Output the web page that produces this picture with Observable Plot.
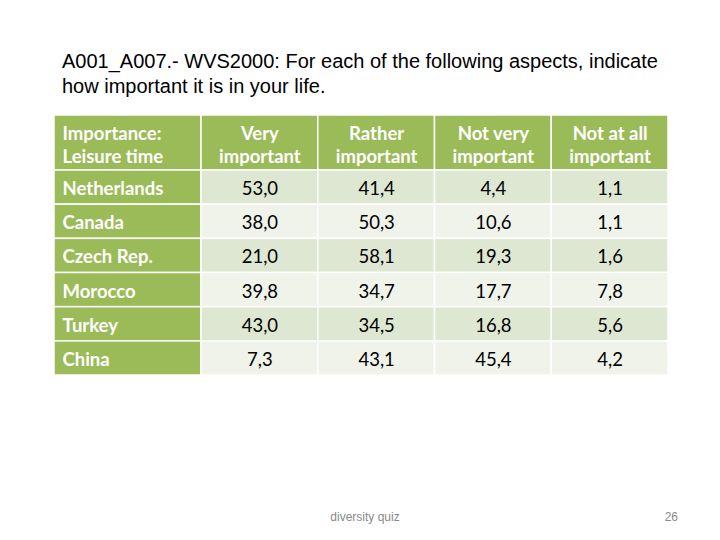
<!DOCTYPE html>
<html>
<head>
<meta charset="utf-8">
<script src="https://cdn.jsdelivr.net/npm/d3@7"></script>
<script src="https://cdn.jsdelivr.net/npm/@observablehq/plot@0.6"></script>
<style>
  html, body { margin: 0; padding: 0; background: #fff; }
  #page { position: relative; width: 720px; height: 540px; overflow: hidden; }
  #title { box-sizing: border-box; height: 100px; padding: 49px 0 0 62px;
           font-family: "Liberation Sans", Arial, sans-serif; font-size: 20px; line-height: 25px; color: #000; }
  #chart svg { display: block; }
  .foot { position: absolute; top: 510px; font-family: "Liberation Sans", Arial, sans-serif; font-size: 12px; color: #898989; }
</style>
</head>
<body>
<div id="page">
  <div id="title">A001_A007.- WVS2000: For each of the following aspects, indicate<br>how important it is in your life.</div>
  <div id="chart"></div>
  <div class="foot" style="left:0;width:730px;text-align:center;">diversity quiz</div>
  <div class="foot" style="right:42px;">26</div>
</div>
<script>
const cornerLabel = "Importance:\nLeisure time";
const columnLabels = ["Very\nimportant", "Rather\nimportant", "Not very\nimportant", "Not at all\nimportant"];
const countries = ["Netherlands", "Canada", "Czech Rep.", "Morocco", "Turkey", "China"];
const veryImportant   = [53.0, 38.0, 21.0, 39.8, 43.0, 7.3];
const ratherImportant = [41.4, 50.3, 58.1, 34.7, 34.5, 43.1];
const notVeryImportant = [4.4, 10.6, 19.3, 17.7, 16.8, 45.4];
const notAtAllImportant = [1.1, 1.1, 1.6, 7.8, 5.6, 4.2];

const series = [veryImportant, ratherImportant, notVeryImportant, notAtAllImportant];
const fmt = v => d3.format(".1f")(v).replace(".", ",");

const GREEN = "#9bbb59", BAND_DARK = "#dee7d1", BAND_LIGHT = "#eff3ea";

const cells = [];
for (let r = 0; r <= countries.length; r++) {
  for (let c = 0; c <= columnLabels.length; c++) {
    const fill = (r === 0 || c === 0) ? GREEN : (r % 2 === 1 ? BAND_DARK : BAND_LIGHT);
    cells.push({r, c, fill});
  }
}
const headerTexts = columnLabels.map((t, i) => ({c: i + 1, r: 0, t}));
const rowTexts = countries.map((t, i) => ({c: 0, r: i + 1, t}));
const valueTexts = [];
series.forEach((vals, j) => vals.forEach((v, i) => valueTexts.push({c: j + 1, r: i + 1, t: fmt(v)})));

const nRows = countries.length;
const nCols = columnLabels.length;

const chart = Plot.plot({
  width: 720,
  height: 290,
  margin: 0,
  x: {type: "linear", domain: [0, 1, nCols + 1], range: [54, 201, 668], axis: null},
  y: {type: "linear", domain: [0, 1, nRows + 1], range: [15, 70, 275], axis: null},
  marks: [
    Plot.rect(cells, {x1: d => d.c, x2: d => d.c + 1, y1: d => d.r, y2: d => d.r + 1,
      fill: d => d.fill, stroke: "#ffffff", strokeWidth: 1.5}),
    Plot.text([cornerLabel], {x: 0, y: 0.5, text: d => d, textAnchor: "start", dx: 8, dy: 1,
      fill: "#ffffff", fontWeight: "bold", fontSize: 18.5, fontFamily: "Lato", lineHeight: 1.25, lineAnchor: "middle"}),
    Plot.text(headerTexts, {x: d => d.c + 0.5, y: d => d.r + 0.5, text: "t", dy: 1,
      fill: "#ffffff", fontWeight: "bold", fontSize: 18.5, fontFamily: "Lato", lineHeight: 1.25, lineAnchor: "middle"}),
    Plot.text(rowTexts, {x: d => d.c, y: d => d.r + 0.5, text: "t", textAnchor: "start", dx: 8, dy: 1.5,
      fill: "#ffffff", fontWeight: "bold", fontSize: 18.5, fontFamily: "Lato", lineAnchor: "middle"}),
    Plot.text(valueTexts, {x: d => d.c + 0.5, y: d => d.r + 0.5, text: "t", dy: 1.5,
      fill: "#000000", fontSize: 18.5, fontFamily: "Lato", lineAnchor: "middle"})
  ]
});
document.getElementById("chart").appendChild(chart);
</script>
</body>
</html>
